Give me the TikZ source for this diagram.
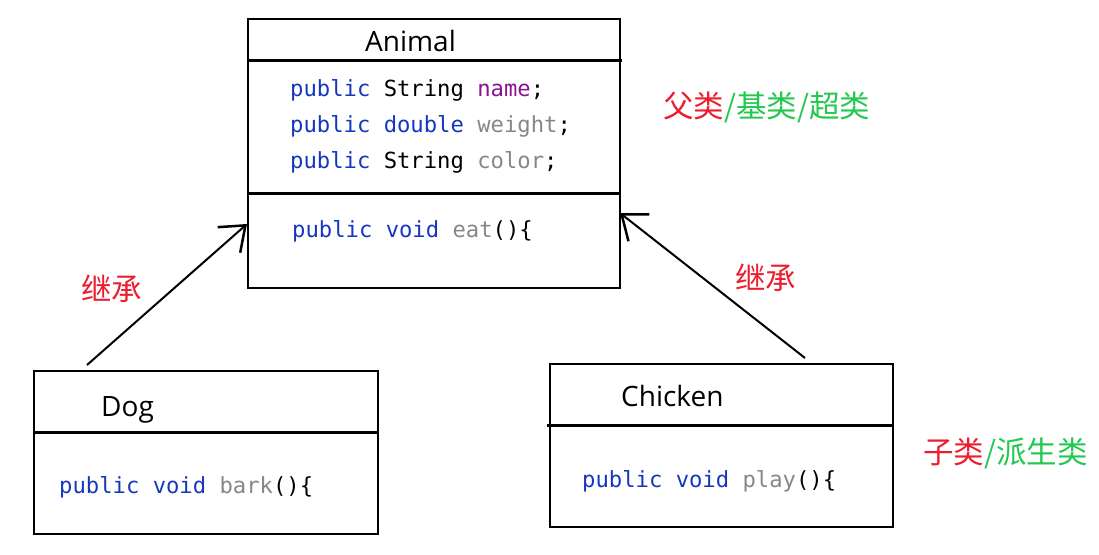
\documentclass[tikz,border=0pt]{standalone}
\usepackage{fontspec}
\setmainfont{Open Sans}
\setmonofont{DejaVu Sans Mono}
\newfontfamily\cjk{Noto Sans CJK SC}
\usetikzlibrary{arrows.meta}
\definecolor{kw}{RGB}{20,55,190}
\definecolor{fld}{RGB}{140,17,150}
\definecolor{gry}{RGB}{135,135,135}
\definecolor{cred}{RGB}{235,30,45}
\definecolor{cgreen}{RGB}{35,200,80}
\tikzset{
  classbox/.style={draw=black, line width=2.7pt, inner sep=0pt},
  divider/.style={line width=3pt},
  title/.style={anchor=base west, inner sep=0pt, font=\fontsize{28}{31}\selectfont},
  code/.style={anchor=base west, inner sep=0pt, font=\ttfamily\fontsize{22.2}{25}\selectfont},
  cjklabel/.style={anchor=west, inner sep=0pt, font=\cjk\fontsize{30.5}{33}\selectfont},
  inherit/.style={line width=2pt, -{Straight Barb[length=22pt,width=34pt,line width=2.5pt]}}
}
\begin{document}
\begin{tikzpicture}[x=1pt,y=-1pt]
\useasboundingbox (0,0) rectangle (1099,554);
% Animal
\node[classbox, minimum width=372pt, minimum height=269pt] (animal) at (434,153.5) {};
\draw[divider] (248,60) -- (622,60);
\draw[divider] (248,193) -- (620,193);
\node[title] (animalname) at (365,51) {Animal};
\node[code] (f1) at (290,96) {\textcolor{kw}{public} String \textcolor{fld}{name};};
\node[code] (f2) at (290,132) {\textcolor{kw}{public double} \textcolor{gry}{weight};};
\node[code] (f3) at (290,168) {\textcolor{kw}{public} String \textcolor{gry}{color};};
\node[code] (m1) at (292,237) {\textcolor{kw}{public void} \textcolor{gry}{eat}()\{};
% Dog
\node[classbox, minimum width=344pt, minimum height=163pt] (dog) at (206,452.5) {};
\draw[divider] (33,432) -- (379,432);
\node[title] (dogname) at (101,416) {Dog};
\node[code] (m2) at (59,493) {\textcolor{kw}{public void} \textcolor{gry}{bark}()\{};
% Chicken
\node[classbox, minimum width=343pt, minimum height=163pt] (chicken) at (721.5,445.5) {};
\draw[divider] (547,425) -- (893,425);
\node[title] (chickenname) at (621,406) {Chicken};
\node[code] (m3) at (582,487) {\textcolor{kw}{public void} \textcolor{gry}{play}()\{};
% arrows
\coordinate (dogfoot) at (87,365);
\coordinate (animalL) at (247,224);
\coordinate (chickfoot) at (805,358);
\coordinate (animalR) at (620,213);
\draw[inherit] (dogfoot) -- (animalL);
\draw[inherit] (chickfoot) -- (animalR);
% labels
\node[cjklabel, text=cred] (inh1) at (81,289) {继承};
\node[cjklabel, text=cred] (inh2) at (735,278) {继承};
\node[cjklabel] (super) at (663,107) {\textcolor{cred}{父类}\textcolor{cgreen}{/基类/超类}};
\node[cjklabel] (sub) at (923,453) {\textcolor{cred}{子类}\textcolor{cgreen}{/派生类}};
\end{tikzpicture}
\end{document}
